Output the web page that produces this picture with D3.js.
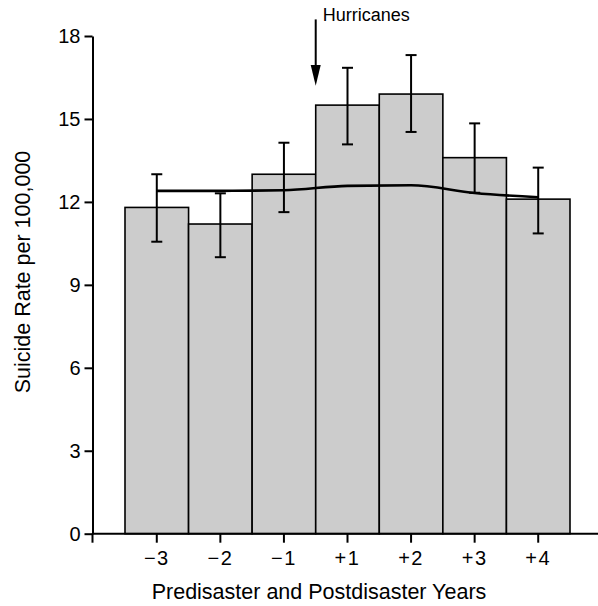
<!DOCTYPE html>
<html>
<head>
<meta charset="utf-8">
<script src="https://cdn.jsdelivr.net/npm/d3@7"></script>
<style>
  body { margin: 0; background: #fff; }
  svg text { font-family: "Liberation Sans", Arial, sans-serif; fill: #000; }
</style>
</head>
<body>
<script>
//suicide rates around the hurricanes, bar + error bars + smoothed trend

//data
var years = ["\u22123", "\u22122", "\u22121", "+1", "+2", "+3", "+4"];
var rates = [11.8, 11.2, 13.0, 15.5, 15.9, 13.6, 12.1];
var errLow = [10.56, 10.0, 11.63, 14.08, 14.53, 12.33, 10.86];
var errHigh = [13.0, 12.31, 14.14, 16.85, 17.31, 14.84, 13.24];
var trend = [12.4, 12.4, 12.42, 12.58, 12.6, 12.32, 12.17];
var yTicks = [0, 3, 6, 9, 12, 15, 18];

var width = 598,
    height = 606;

var svg = d3.select("body")
    .append("svg")
    .attr("width", width)
    .attr("height", height);

//axis origin, bars start one half band to the right of it
var originX = 92.5,
    originY = 533.7;

var x = d3.scaleBand()
    .domain(years)
    .range([125, 570])
    .padding(0);

var y = d3.scaleLinear()
    .domain([0, 18])
    .range([originY, 36]);

//bars
svg.selectAll(".bar")
    .data(years)
    .enter()
    .append("rect")
    .attr("class", "bar")
    .attr("x", function(d){ return x(d); })
    .attr("y", function(d, i){ return y(rates[i]); })
    .attr("width", x.bandwidth())
    .attr("height", function(d, i){ return originY - y(rates[i]); })
    .style("fill", "#cccccc")
    .style("stroke", "#000")
    .style("stroke-width", 1.6);

//smoothed trend line
var line = d3.line()
    .x(function(d, i){ return x(years[i]) + x.bandwidth() / 2; })
    .y(function(d){ return y(d); })
    .curve(d3.curveMonotoneX);

svg.append("path")
    .datum(trend)
    .attr("d", line)
    .style("fill", "none")
    .style("stroke", "#000")
    .style("stroke-width", 2.6);

//error bars
var capHalf = 5.5;
var err = svg.selectAll(".err")
    .data(years)
    .enter()
    .append("g")
    .attr("class", "err")
    .style("stroke", "#000")
    .style("stroke-width", 2);

err.append("line")
    .attr("x1", function(d){ return x(d) + x.bandwidth() / 2; })
    .attr("x2", function(d){ return x(d) + x.bandwidth() / 2; })
    .attr("y1", function(d, i){ return y(errLow[i]); })
    .attr("y2", function(d, i){ return y(errHigh[i]); });

err.append("line")
    .attr("x1", function(d){ return x(d) + x.bandwidth() / 2 - capHalf; })
    .attr("x2", function(d){ return x(d) + x.bandwidth() / 2 + capHalf; })
    .attr("y1", function(d, i){ return y(errHigh[i]); })
    .attr("y2", function(d, i){ return y(errHigh[i]); });

err.append("line")
    .attr("x1", function(d){ return x(d) + x.bandwidth() / 2 - capHalf; })
    .attr("x2", function(d){ return x(d) + x.bandwidth() / 2 + capHalf; })
    .attr("y1", function(d, i){ return y(errLow[i]); })
    .attr("y2", function(d, i){ return y(errLow[i]); });

//y axis
var yAxis = svg.append("g")
    .attr("transform", "translate(" + originX + ",0)")
    .call(d3.axisLeft(y).tickValues(yTicks).tickSize(8).tickPadding(4).tickSizeOuter(0));
yAxis.selectAll("text").style("font-size", "20px");
yAxis.selectAll("line, path").style("stroke-width", 2);

//x axis, domain line drawn by hand so it runs from the origin to the edge
var xAxis = svg.append("g")
    .attr("transform", "translate(0," + originY + ")")
    .call(d3.axisBottom(x).tickSize(9).tickPadding(8));
xAxis.select(".domain").remove();
xAxis.selectAll("text")
    .style("font-size", "20px")
    .style("letter-spacing", "1.5px");
xAxis.selectAll("line").style("stroke-width", 2);

xAxis.append("line")
    .attr("x1", originX).attr("x2", width)
    .attr("y1", 0).attr("y2", 0)
    .style("stroke", "#000").style("stroke-width", 2);
xAxis.append("line")
    .attr("x1", originX).attr("x2", originX)
    .attr("y1", 0).attr("y2", 9)
    .style("stroke", "#000").style("stroke-width", 2);

//axis titles
svg.append("text")
    .attr("x", 319)
    .attr("y", 599)
    .attr("text-anchor", "middle")
    .style("font-size", "21.5px")
    .text("Predisaster and Postdisaster Years");

svg.append("text")
    .attr("transform", "translate(30,272) rotate(-90)")
    .attr("text-anchor", "middle")
    .style("font-size", "21.5px")
    .text("Suicide Rate per 100,000");

//hurricane marker between year -1 and +1
var arrowX = x(years[3]);
svg.append("line")
    .attr("x1", arrowX).attr("x2", arrowX)
    .attr("y1", y(18.6)).attr("y2", y(16.8))
    .style("stroke", "#000").style("stroke-width", 2);
svg.append("path")
    .attr("d", "M" + (arrowX - 5) + "," + y(16.95) + "L" + (arrowX + 5) + "," + y(16.95) + "L" + arrowX + "," + y(16.2) + "Z")
    .style("fill", "#000");

svg.append("text")
    .attr("x", arrowX + 7)
    .attr("y", 20.5)
    .style("font-size", "18px")
    .text("Hurricanes");
</script>
</body>
</html>
